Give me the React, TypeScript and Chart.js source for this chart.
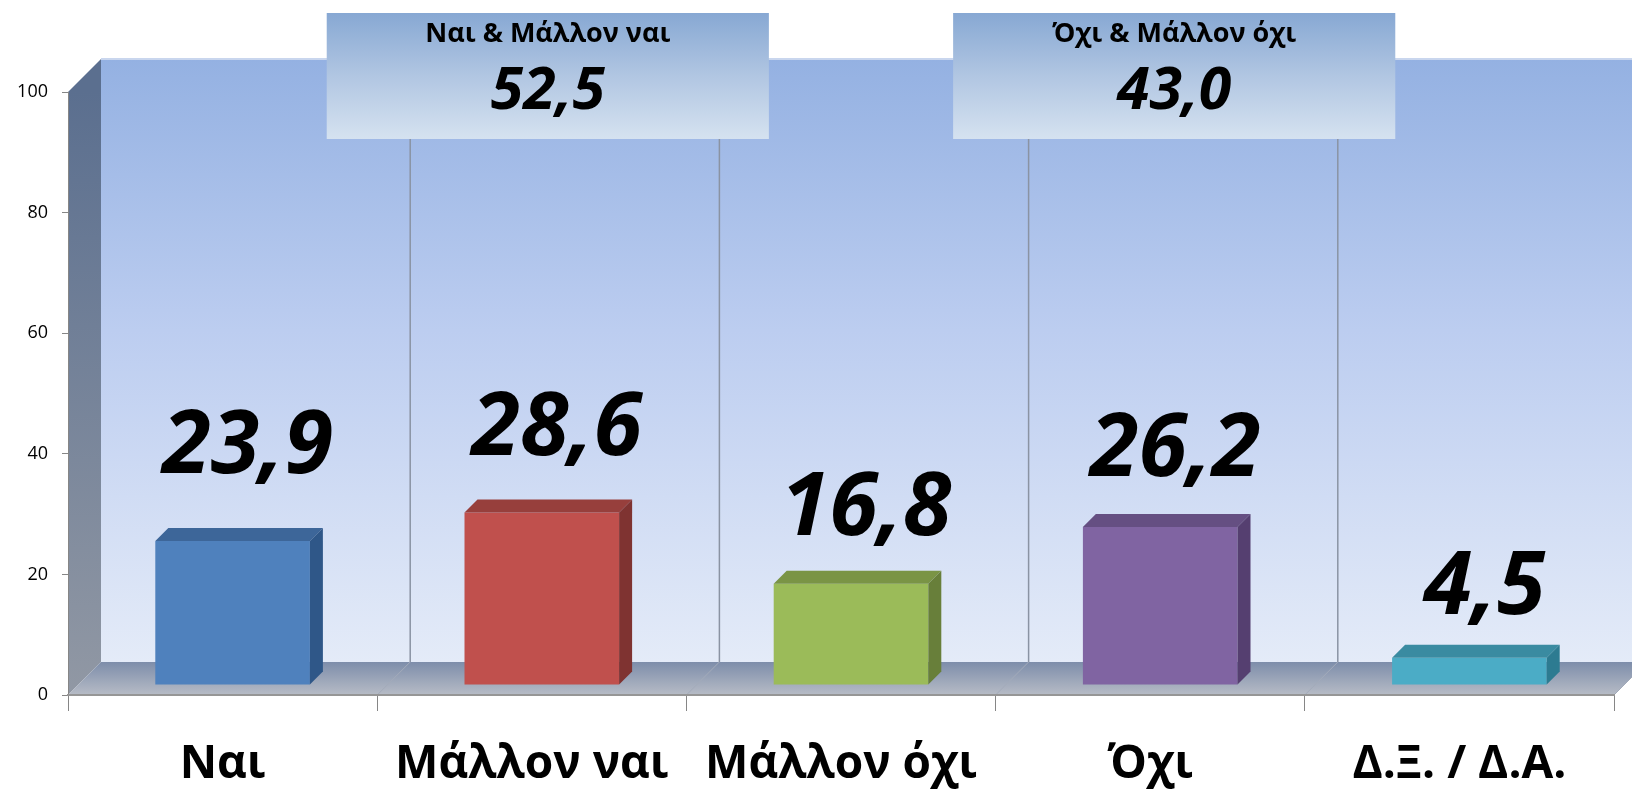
import React, { useEffect, useRef } from "react";
import { Chart, registerables } from "chart.js";

Chart.register(...registerables);

// ---- data ----
const categories = ["Ναι", "Μάλλον ναι", "Μάλλον όχι", "Όχι", "Δ.Ξ. / Δ.Α."];
const values = [23.9, 28.6, 16.8, 26.2, 4.5];
const groupTitles = ["Ναι & Μάλλον ναι", "Όχι & Μάλλον όχι"];
const groupValues = [52.5, 43.0];
const groupAnchors = [1, 3];
const yTickStep = 20;
const yMax = 100;

// ---- styles ----
const frontColors = ["#4f81bd", "#c0504d", "#9bbb59", "#8064a2", "#4bacc6"];
const topColors = ["#3d6699", "#973f3c", "#7a9445", "#654f82", "#3a8ba1"];
const sideColors = ["#2f5788", "#7f3331", "#687f3a", "#553f70", "#2d7b91"];
const labelNudge = [-16, -6, 3, 1, 8];
const boxNudge = [16, 24];
const FONT = "'Open Sans', 'Noto Sans', sans-serif";
const DEPTH = 33;
const SHIFT = 10;
const FACE = 13;

const fmt = (v: number) => v.toFixed(1).replace(".", ",");

const scenePlugin = {
  id: "scene3d",
  beforeDraw(chart: any) {
    const { ctx, chartArea: a, scales } = chart;
    const xs = scales.x;
    const W = chart.width;
    const wl = a.left + DEPTH;
    const wt = a.top - DEPTH;
    const wb = a.bottom - DEPTH;
    ctx.save();
    // back wall
    const g = ctx.createLinearGradient(0, wt, 0, wb);
    g.addColorStop(0, "#94b1e2");
    g.addColorStop(0.45, "#bccdf0");
    g.addColorStop(1, "#e4ebf8");
    ctx.fillStyle = g;
    ctx.fillRect(wl, wt, W - wl, wb - wt);
    ctx.strokeStyle = "#c9d6ee";
    ctx.lineWidth = 2;
    ctx.beginPath();
    ctx.moveTo(wl, wt);
    ctx.lineTo(W, wt);
    ctx.stroke();
    // left wall
    const lg = ctx.createLinearGradient(0, a.top, 0, a.bottom);
    lg.addColorStop(0, "#5b6f8f");
    lg.addColorStop(1, "#9198a4");
    ctx.fillStyle = lg;
    ctx.beginPath();
    ctx.moveTo(a.left, a.top);
    ctx.lineTo(wl, wt);
    ctx.lineTo(wl, wb);
    ctx.lineTo(a.left, a.bottom);
    ctx.closePath();
    ctx.fill();
    // floor
    const fg = ctx.createLinearGradient(0, wb, 0, a.bottom);
    fg.addColorStop(0, "#7d8daa");
    fg.addColorStop(1, "#b7bcc6");
    ctx.fillStyle = fg;
    ctx.beginPath();
    ctx.moveTo(a.left, a.bottom);
    ctx.lineTo(wl, wb);
    ctx.lineTo(a.right + DEPTH, wb);
    ctx.lineTo(a.right, a.bottom);
    ctx.closePath();
    ctx.fill();
    const n = categories.length;
    for (let i = 1; i < n; i++) {
      const b = (xs.getPixelForValue(i - 1) + xs.getPixelForValue(i)) / 2;
      ctx.strokeStyle = "#8a93a3";
      ctx.lineWidth = 1.5;
      ctx.beginPath();
      ctx.moveTo(b + DEPTH, wt);
      ctx.lineTo(b + DEPTH, wb);
      ctx.stroke();
      ctx.strokeStyle = "#a3abba";
      ctx.lineWidth = 1;
      ctx.beginPath();
      ctx.moveTo(b, a.bottom);
      ctx.lineTo(b + DEPTH, wb);
      ctx.stroke();
    }
    ctx.strokeStyle = "#a3abba";
    ctx.beginPath();
    ctx.moveTo(a.right, a.bottom);
    ctx.lineTo(a.right + DEPTH, wb);
    ctx.stroke();
    ctx.restore();
  },
  beforeDatasetsDraw(chart: any) {
    chart.ctx.save();
    chart.ctx.translate(SHIFT, -SHIFT);
  },
  afterDatasetsDraw(chart: any) {
    const ctx = chart.ctx;
    const meta = chart.getDatasetMeta(0);
    meta.data.forEach((bar: any, i: number) => {
      const { x, y, base, width } = bar.getProps(["x", "y", "base", "width"], true);
      const l = x - width / 2;
      const r = x + width / 2;
      ctx.fillStyle = topColors[i];
      ctx.beginPath();
      ctx.moveTo(l, y);
      ctx.lineTo(l + FACE, y - FACE);
      ctx.lineTo(r + FACE, y - FACE);
      ctx.lineTo(r, y);
      ctx.closePath();
      ctx.fill();
      ctx.fillStyle = sideColors[i];
      ctx.beginPath();
      ctx.moveTo(r, y);
      ctx.lineTo(r + FACE, y - FACE);
      ctx.lineTo(r + FACE, base - FACE);
      ctx.lineTo(r, base);
      ctx.closePath();
      ctx.fill();
    });
    ctx.restore();
    ctx.save();
    ctx.fillStyle = "#000";
    ctx.font = `italic bold 88px ${FONT}`;
    ctx.textAlign = "center";
    ctx.textBaseline = "alphabetic";
    meta.data.forEach((bar: any, i: number) => {
      const { x, y } = bar.getProps(["x", "y"], true);
      ctx.fillText(fmt(values[i]), x + SHIFT + 15, y - SHIFT - 52 + labelNudge[i]);
    });
    ctx.restore();
  },
  afterDraw(chart: any) {
    const { ctx, chartArea: a, scales } = chart;
    const xs = scales.x;
    const catW = xs.getPixelForValue(1) - xs.getPixelForValue(0);
    ctx.save();
    groupAnchors.forEach((ci, k) => {
      const cx = xs.getPixelForValue(ci) + boxNudge[k];
      const w = catW * 1.43;
      const top = a.top - 79;
      const h = 126;
      const g = ctx.createLinearGradient(0, top, 0, top + h);
      g.addColorStop(0, "#87a8d3");
      g.addColorStop(0.5, "#b1c6e2");
      g.addColorStop(1, "#d5e2f0");
      ctx.fillStyle = g;
      ctx.fillRect(cx - w / 2, top, w, h);
      ctx.fillStyle = "#000";
      ctx.textAlign = "center";
      ctx.textBaseline = "middle";
      ctx.font = `bold 27px ${FONT}`;
      ctx.fillText(groupTitles[k], cx, top + 21);
      ctx.font = `italic bold 59px ${FONT}`;
      ctx.fillText(fmt(groupValues[k]), cx, top + 79);
    });
    ctx.restore();
  },
};

export default function App() {
  const ref = useRef<HTMLCanvasElement | null>(null);
  useEffect(() => {
    if (!ref.current) return;
    const chart = new Chart(ref.current, {
      type: "bar",
      data: {
        labels: categories,
        datasets: [
          {
            data: values,
            backgroundColor: frontColors,
            borderWidth: 0,
            barPercentage: 0.5,
            categoryPercentage: 1,
          },
        ],
      },
      options: {
        animation: false,
        responsive: false,
        devicePixelRatio: 1,
        layout: { padding: { top: 92, right: 18, left: 0, bottom: 0 } },
        plugins: { legend: { display: false }, tooltip: { enabled: false } },
        scales: {
          y: {
            min: 0,
            max: yMax,
            ticks: {
              stepSize: yTickStep,
              color: "#000",
              padding: 14,
              font: { family: FONT, size: 18 },
            },
            grid: { drawOnChartArea: false, drawTicks: true, tickLength: 6, color: "#868686" },
            border: { display: true, color: "#868686", width: 1 },
            afterFit: (s: any) => {
              s.width = 68;
            },
          },
          x: {
            ticks: {
              color: "#000",
              padding: 26,
              font: { family: FONT, size: 46, weight: "bold" },
              maxRotation: 0,
              autoSkip: false,
            },
            grid: { drawOnChartArea: false, drawTicks: true, tickLength: 16, color: "#868686", offset: true },
            border: { display: true, color: "#969696", width: 2 },
            afterFit: (s: any) => {
              s.height = 94;
            },
          },
        },
      },
      plugins: [scenePlugin],
    });
    return () => chart.destroy();
  }, []);
  return (
    <div style={{ position: "fixed", left: 0, top: 0, width: 1632, height: 789, background: "#fff" }}>
      <canvas ref={ref} width={1632} height={789} style={{ display: "block" }} />
    </div>
  );
}
